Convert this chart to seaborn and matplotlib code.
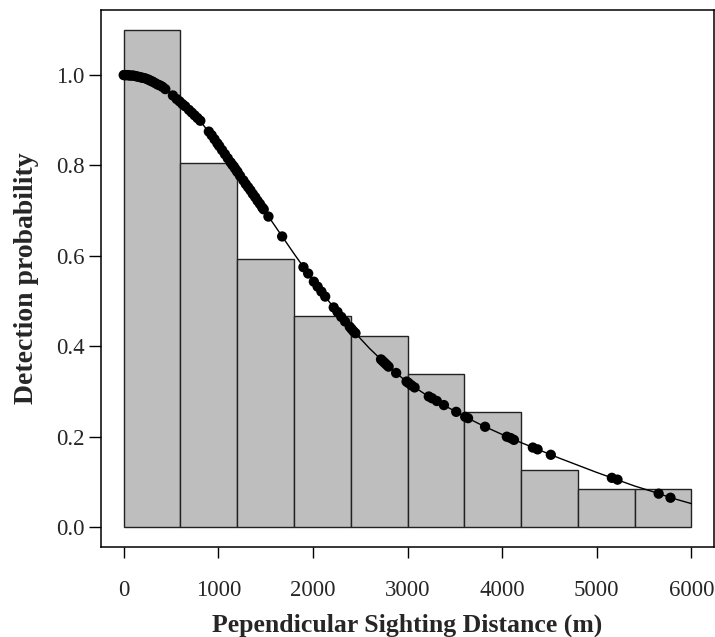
import numpy as np
import pandas as pd
import matplotlib
matplotlib.use("Agg")
import matplotlib.pyplot as plt
import seaborn as sns

# Histogram (scaled detection frequencies), 600 m bins
bin_edges = [0, 600, 1200, 1800, 2400, 3000, 3600, 4200, 4800, 5400, 6000]
bar_heights = [1.100, 0.805, 0.593, 0.466, 0.423, 0.339, 0.254, 0.127, 0.085, 0.085]

# Fitted detection function
curve_x = [0, 200, 400, 600, 800, 1000, 1200, 1400, 1600, 1800, 2000, 2200, 2400,
           2600, 2800, 3000, 3200, 3400, 3600, 3800, 4000, 4200, 4400, 4600, 4800,
           5000, 5200, 5400, 5600, 5800, 6000]
curve_y = [1.000, 0.994, 0.976, 0.940, 0.901, 0.846, 0.786, 0.727, 0.666, 0.605,
           0.546, 0.491, 0.440, 0.395, 0.355, 0.320, 0.292, 0.268, 0.245, 0.224,
           0.205, 0.187, 0.170, 0.153, 0.137, 0.121, 0.106, 0.091, 0.078, 0.064, 0.052]

# Observed sightings (distance, fitted detection probability)
sight_dist = [0, 10, 20, 30, 45, 60, 80, 100, 120, 140, 160, 180, 200, 225, 250, 270,
              290, 310, 335, 360, 385, 410, 440, 520, 560, 590,
              620, 650, 690, 720, 750, 780, 810, 900, 930, 960, 990, 1010, 1040, 1070,
              1100, 1130, 1150, 1175, 1195,
              1205, 1230, 1265, 1290, 1315, 1340, 1365, 1390, 1415, 1440, 1465, 1480,
              1530, 1675,
              1900, 1950, 2010, 2050, 2090, 2130, 2220, 2260, 2300, 2340, 2390,
              2410, 2430, 2450, 2720, 2740, 2760, 2780, 2800, 2880, 2990,
              3010, 3040, 3075, 3225, 3260, 3310, 3385, 3515,
              3610, 3640, 3820, 4050, 4090, 4125,
              4325, 4375, 4515,
              5160, 5220,
              5655, 5780]
sight_prob = [1.000, 1.000, 1.000, 1.000, 1.000, 0.999, 0.999, 0.999, 0.998, 0.997,
              0.996, 0.995, 0.994, 0.993, 0.991, 0.989, 0.987, 0.985, 0.982, 0.979,
              0.977, 0.974, 0.969, 0.955, 0.947, 0.942,
              0.936, 0.931, 0.923, 0.917, 0.911, 0.905, 0.899, 0.875, 0.867, 0.858,
              0.849, 0.843, 0.834, 0.825, 0.816, 0.807, 0.801, 0.794, 0.788,
              0.785, 0.777, 0.767, 0.759, 0.752, 0.745, 0.737, 0.730, 0.722, 0.715,
              0.707, 0.703, 0.687, 0.643,
              0.575, 0.561, 0.543, 0.532, 0.521, 0.510, 0.486, 0.476, 0.465, 0.455, 0.443,
              0.438, 0.433, 0.429, 0.371, 0.367, 0.363, 0.359, 0.355, 0.341, 0.322,
              0.319, 0.314, 0.309, 0.289, 0.285, 0.279, 0.270, 0.255,
              0.244, 0.241, 0.222, 0.200, 0.197, 0.193,
              0.176, 0.172, 0.160,
              0.109, 0.105,
              0.074, 0.065]

x_ticks = [0, 1000, 2000, 3000, 4000, 5000, 6000]
y_ticks = [0.0, 0.2, 0.4, 0.6, 0.8, 1.0]

sns.set_style("ticks")
plt.rcParams["font.family"] = ["Liberation Serif", "DejaVu Serif"]

fig = plt.figure(figsize=(7.15, 6.37), dpi=100)
ax = fig.add_axes([101 / 715, (637 - 547) / 637, (714 - 101) / 715, (547 - 10) / 637])

centers = [(bin_edges[i] + bin_edges[i + 1]) / 2 for i in range(len(bar_heights))]
hist_df = pd.DataFrame({"center": centers, "height": bar_heights})
sns.histplot(data=hist_df, x="center", weights="height", bins=bin_edges, stat="count",
             color="#bebebe", edgecolor="#222222", linewidth=1.0, alpha=1.0, ax=ax)

curve_df = pd.DataFrame({"x": curve_x, "y": curve_y})
sns.lineplot(data=curve_df, x="x", y="y", color="black", linewidth=1.0, ax=ax)

pts_df = pd.DataFrame({"d": sight_dist, "p": sight_prob})
sns.scatterplot(data=pts_df, x="d", y="p", color="black", s=55, edgecolor="none",
                linewidth=0, ax=ax, zorder=5)

ax.set_xlim(-240, 6240)
ax.set_ylim(-0.044, 1.144)
ax.set_xticks(x_ticks)
ax.set_xticklabels([str(v) for v in x_ticks])
ax.set_yticks(y_ticks)
ax.set_yticklabels([f"{v:.1f}" for v in y_ticks])
ax.tick_params(axis="x", direction="out", length=8, width=1, pad=16, labelsize=16.5, color="black")
ax.tick_params(axis="y", direction="out", length=9, width=1, pad=3, labelsize=16.5, color="black")
for sp in ax.spines.values():
    sp.set_visible(True)
    sp.set_color("black")
    sp.set_linewidth(1.1)

ax.set_xlabel("Pependicular Sighting Distance (m)", fontsize=18.5, fontweight="bold", labelpad=9)
ax.set_ylabel("Detection probability", fontsize=20, fontweight="bold", labelpad=12)

fig.savefig("out.png", dpi=100)
